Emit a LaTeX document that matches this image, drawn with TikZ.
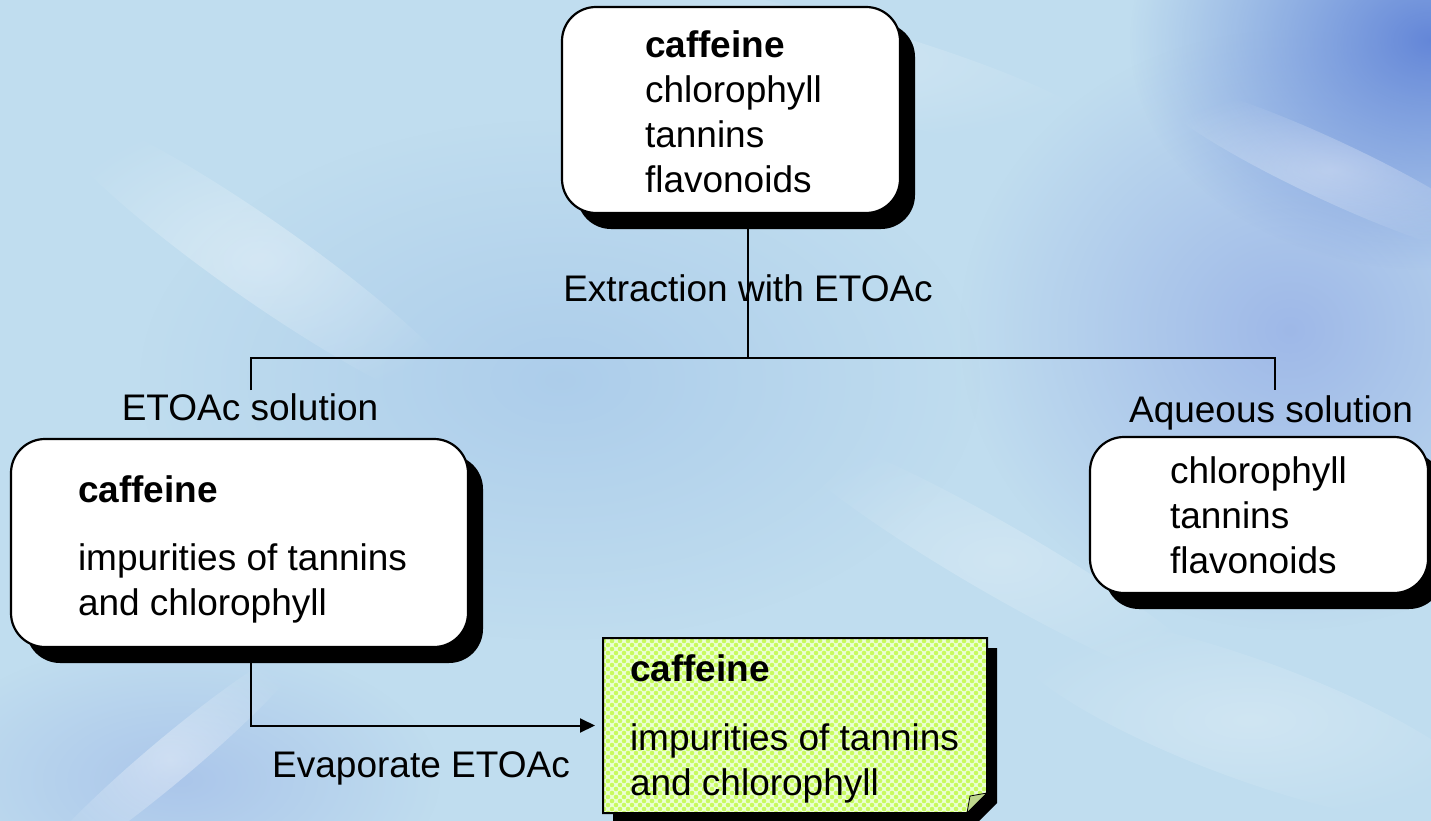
\documentclass[tikz,border=0pt]{standalone}
\usepackage{fontspec}
\setmainfont{Liberation Sans}
\usetikzlibrary{arrows.meta,shadows,fadings,patterns.meta}
\definecolor{bgbase}{RGB}{192,221,239}
\definecolor{bgblue}{RGB}{95,130,215}
\definecolor{bglav}{RGB}{150,175,230}
\definecolor{bgdeep}{RGB}{160,195,232}
\definecolor{notebase}{RGB}{236,255,214}
\definecolor{notedot}{RGB}{200,250,95}
\definecolor{notefold}{RGB}{190,215,140}
\tikzfading[name=fuzzy, inner color=transparent!0, outer color=transparent!100]
\pgfdeclarelayer{bg}
\pgfdeclarelayer{lines}
\pgfsetlayers{bg,lines,main}
\begin{document}
\begin{tikzpicture}[x=1pt,y=-1pt,
  every node/.style={font=\fontsize{37}{45}\selectfont, inner sep=0pt, outer sep=0pt},
  box/.style={draw=black, line width=2.2pt, fill=white, rounded corners=34pt,
    drop shadow={opacity=1, fill=black, shadow xshift=15pt, shadow yshift=-16pt}},
  txt/.style={align=left, anchor=north west},
  lbl/.style={anchor=base},
  conn/.style={line width=2pt, draw=black},
  arr/.style={conn, -{Triangle[length=15pt,width=14pt]}},
  blob/.style={path fading=fuzzy}
]
\useasboundingbox (0,0) rectangle (1431,821);

% background
\begin{pgfonlayer}{bg}
\fill[bgbase] (0,0) rectangle (1431,821);
\fill[bglav, opacity=0.8, blob] (1290,330) ellipse [x radius=330, y radius=300];
\fill[bgblue, opacity=0.95, blob] (1430,40) ellipse [x radius=300, y radius=230];
\fill[bgdeep, opacity=0.6, blob] (560,380) ellipse [x radius=420, y radius=260];
\fill[bglav, opacity=0.5, blob] (180,780) ellipse [x radius=260, y radius=140];
\fill[white, opacity=0.35, blob, rotate around={-35:(260,260)}] (260,260) ellipse [x radius=260, y radius=40];
\fill[white, opacity=0.35, blob, rotate around={-25:(1330,170)}] (1330,170) ellipse [x radius=200, y radius=30];
\fill[white, opacity=0.4, blob, rotate around={40:(170,760)}] (170,760) ellipse [x radius=180, y radius=22];
\fill[white, opacity=0.25, blob, rotate around={-30:(1000,560)}] (1000,560) ellipse [x radius=260, y radius=35];
\fill[white, opacity=0.25, blob, rotate around={-20:(1250,720)}] (1250,720) ellipse [x radius=260, y radius=60];
\fill[white, opacity=0.25, blob, rotate around={-15:(820,60)}] (820,60) ellipse [x radius=300, y radius=45];
\end{pgfonlayer}

% boxes
\node[box, minimum width=338pt, minimum height=206pt] (top) at (731,110) {};
\node[txt] (toptxt) at (645,31) {\textbf{caffeine}\\chlorophyll\\tannins\\flavonoids};

\node[box, minimum width=457pt, minimum height=208pt] (lb) at (239.5,543) {};
\node[txt] (lbtxt) at (78,476) {\textbf{caffeine}\\[23pt]impurities of tannins\\and chlorophyll};

\node[box, minimum width=338pt, minimum height=156pt] (rb) at (1259,515) {};
\node[txt] (rbtxt) at (1170,457) {chlorophyll\\tannins\\flavonoids};

% note
\node[minimum width=384pt, minimum height=175pt] (note) at (795,725.5) {};
\fill[black] ([xshift=10pt,yshift=-10pt]note.north west) -- ([xshift=10pt,yshift=-10pt]note.north east)
  -- ([xshift=10pt,yshift=10pt]note.south east) -- ([xshift=-10pt,yshift=-10pt]note.south east)
  -- ([xshift=10pt,yshift=-10pt]note.south west) -- cycle;
\fill[notebase] (note.north west) -- (note.north east) -- ([yshift=20pt]note.south east)
  -- ([xshift=-20pt]note.south east) -- (note.south west) -- cycle;
\fill[pattern={Dots[radius=2.3pt,distance=8pt]}, pattern color=notedot] (note.north west) -- (note.north east) -- ([yshift=20pt]note.south east)
  -- ([xshift=-20pt]note.south east) -- (note.south west) -- cycle;
\fill[pattern={Dots[radius=2.3pt,distance=8pt,xshift=4pt,yshift=4pt]}, pattern color=notedot] (note.north west) -- (note.north east) -- ([yshift=20pt]note.south east)
  -- ([xshift=-20pt]note.south east) -- (note.south west) -- cycle;
\draw[line width=2pt] (note.north west) -- (note.north east) -- ([yshift=20pt]note.south east)
  -- ([xshift=-20pt]note.south east) -- (note.south west) -- cycle;
\filldraw[fill=notefold, draw=black, line width=0.8pt] ([yshift=20pt]note.south east) -- ([xshift=-20pt]note.south east)
  -- ([xshift=-17pt,yshift=17pt]note.south east) -- cycle;
\node[txt] (notetxt) at (630,655) {\textbf{caffeine}\\[24pt]impurities of tannins\\and chlorophyll};

% connectors
\coordinate (j) at (748,358);
\coordinate (jl) at (251,390);
\coordinate (jr) at (1275,390);
\begin{pgfonlayer}{lines}
\draw[conn] (top.south -| j) -- (j);
\draw[conn] (jl) -- (jl |- j) -- (jr |- j) -- (jr);
\draw[arr] (lb.south -| jl) |- ([xshift=-8pt]note.west);
\end{pgfonlayer}

% labels
\node[lbl] (extr) at (748,301) {Extraction with ETOAc};
\node[lbl] (etoac) at (250,420) {ETOAc solution};
\node[lbl] (aq) at (1271,422) {Aqueous solution};
\node[lbl] (evap) at (421,777) {Evaporate ETOAc};
\end{tikzpicture}
\end{document}
